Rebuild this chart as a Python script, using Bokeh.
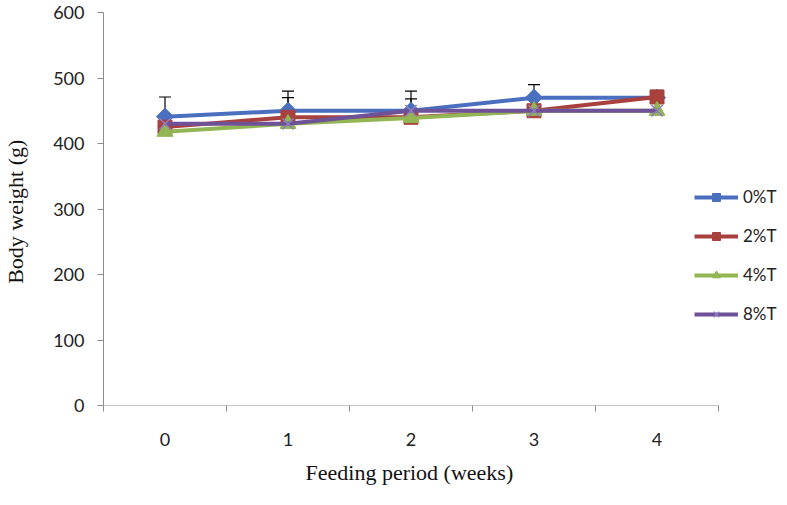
import math
from bokeh.plotting import figure
from bokeh.models import (ColumnDataSource, Range1d, FixedTicker, Legend, LegendItem,
                          Whisker, TeeHead, Title)
from bokeh.embed import file_html
from bokeh.resources import INLINE

weeks = [0, 1, 2, 3, 4]
week_labels = ["0", "1", "2", "3", "4"]
t0 = [441, 450, 450, 470, 470]
t2 = [425, 440, 440, 450, 471]
t4 = [418, 430, 439, 450, 450]
t8 = [430, 430, 450, 450, 450]
err_t0 = [30, 30, 30, 20, 0]
err_t2 = [0, 30, 28, 0, 10]
y_ticks = [0, 100, 200, 300, 400, 500, 600]

FW, FH = 680, 393
p = figure(width=779, height=489, output_backend="svg", toolbar_location=None,
           x_range=Range1d(-0.5, -0.5 + FW / 123.0), y_range=Range1d(0, 600),
           min_border_left=99, min_border_right=0, min_border_top=12, min_border_bottom=84)
p.frame_width = FW
p.frame_height = FH
p.outline_line_color = None
p.xgrid.visible = False
p.ygrid.visible = False

axis_color = "#8c8c8c"
for ax in (p.xaxis[0], p.yaxis[0]):
    ax.axis_line_color = axis_color
    ax.major_tick_line_color = axis_color
    ax.minor_tick_line_color = axis_color
    ax.major_label_text_font = "Lato"
    ax.major_label_text_font_size = "18px"
    ax.major_label_text_color = "#222222"
    ax.axis_label_text_font = "Liberation Serif"
    ax.axis_label_text_font_size = "22px"
    ax.axis_label_text_font_style = "normal"
    ax.axis_label_text_color = "#111111"

# x axis: labels at category centres, tick marks between categories
p.xaxis.ticker = FixedTicker(ticks=weeks, minor_ticks=[w + 0.5 for w in [-1] + weeks])
p.xaxis.major_label_overrides = {w: l for w, l in zip(weeks, week_labels)}
p.xaxis.major_tick_out = 0
p.xaxis.major_tick_in = 0
p.xaxis.minor_tick_out = 6
p.xaxis.minor_tick_in = 0
p.xaxis.major_label_standoff = 21
p.xaxis.axis_line_color = None

p.yaxis.ticker = FixedTicker(ticks=y_ticks, minor_ticks=[])
p.yaxis.major_tick_out = 6
p.yaxis.major_tick_in = 0
p.yaxis.major_label_standoff = 13
p.yaxis.axis_label = "Body weight  (g)"
p.yaxis.axis_label_standoff = 22

# visible x-axis line spanning the category area only
p.segment(x0=[weeks[0] - 0.5], x1=[weeks[-1] + 0.5], y0=[0], y1=[0],
          line_color=axis_color, line_width=1)

xt = Title(text="Feeding  period (weeks)", align="left", offset=202, standoff=18,
           text_font="Liberation Serif", text_font_size="22px", text_font_style="normal",
           text_color="#111111")
p.add_layout(xt, "below")

src = ColumnDataSource(dict(x=weeks, t0=t0, t2=t2, t4=t4, t8=t8,
                            u0=[a + b for a, b in zip(t0, err_t0)],
                            u2=[a + b for a, b in zip(t2, err_t2)]))

for low, up in (("t0", "u0"), ("t2", "u2")):
    p.add_layout(Whisker(source=src, base="x", lower=low, upper=up,
                         line_color="black", line_width=1.2,
                         upper_head=TeeHead(size=12, line_color="black", line_width=1.2),
                         lower_head=None))

c0, c2, c4, c8 = "#4A6FBE", "#A8403D", "#93B554", "#6F5198"
lw = 4
l0 = p.line("x", "t0", source=src, line_color=c0, line_width=lw)
m0 = p.scatter("x", "t0", source=src, marker="square", angle=math.pi / 4, size=12,
               fill_color=c0, line_color=c0)
l2 = p.line("x", "t2", source=src, line_color=c2, line_width=lw)
m2 = p.scatter("x", "t2", source=src, marker="square", size=14, fill_color=c2, line_color=c2)
l4 = p.line("x", "t4", source=src, line_color=c4, line_width=lw)
m4 = p.scatter("x", "t4", source=src, marker="triangle", size=16, fill_color=c4, line_color=c4)
l8 = p.line("x", "t8", source=src, line_color=c8, line_width=lw)
m8 = p.scatter("x", "t8", source=src, marker="x", size=16, line_color="#8e7cc3", line_width=1.5)

legend = Legend(items=[LegendItem(label="0%T", renderers=[l0, m0]),
                       LegendItem(label="2%T", renderers=[l2, m2]),
                       LegendItem(label="4%T", renderers=[l4, m4]),
                       LegendItem(label="8%T", renderers=[l8, m8])],
                location=(591, 81), padding=0, margin=0, spacing=18,
                glyph_width=44, glyph_height=20, label_standoff=5,
                label_text_font="Lato", label_text_font_size="17px",
                label_text_color="#222222",
                background_fill_alpha=0, border_line_color=None)
p.add_layout(legend, "center")

open("out.html", "w").write(file_html(p, INLINE))
